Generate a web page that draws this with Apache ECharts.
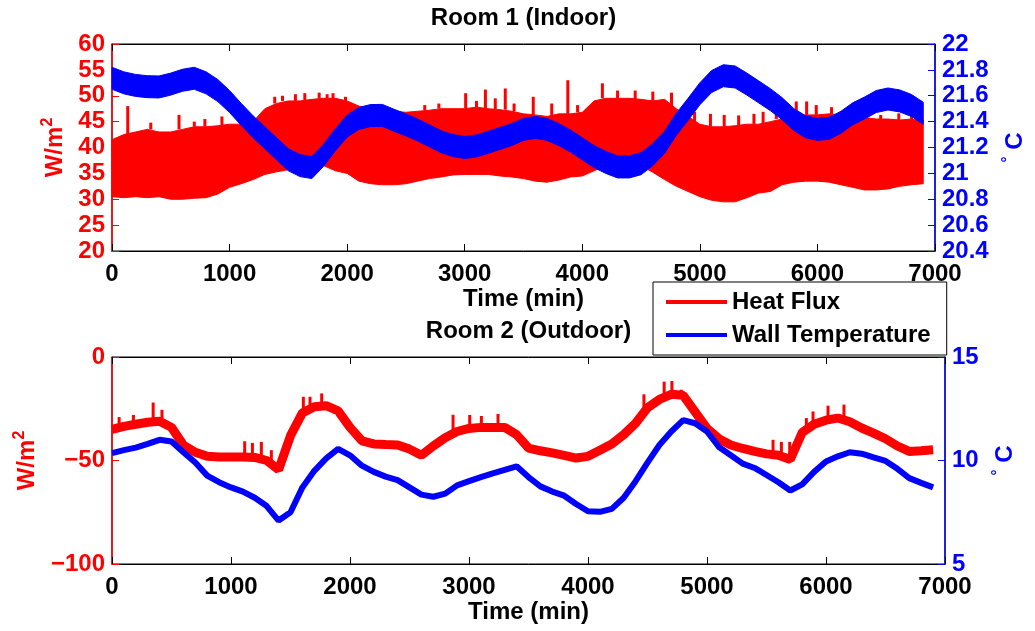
<!DOCTYPE html>
<html><head><meta charset="utf-8">
<script src="https://cdn.jsdelivr.net/npm/echarts@6/dist/echarts.min.js"></script>
<style>html,body{margin:0;padding:0;background:#fff}#c{width:1035px;height:631px}</style>
</head><body><div id="c"></div>
<script>
// ---------- data ----------
const STEP = 100; // minutes between samples
const X_TICKS = [0, 1000, 2000, 3000, 4000, 5000, 6000, 7000];

// Room 1 (Indoor) heat flux: upper / lower edge of the oscillating band (W/m^2)
const room1FluxHigh = [41.5,42.5,43,43.5,43,43,43.5,44,44,44.2,
  44.5,44.5,45,47.5,48.5,49,49,49.3,49.5,49.5,
  49,48,47.5,47.3,47,46.8,47,47.2,47.5,47.5,
  47.5,47.8,47.5,47.3,47,46.5,46.3,46,46.5,46.5,
  46.8,49,49.5,49.5,49.5,49.3,49,49.3,47.5,46,
  44.5,44,44,44.2,44.5,44.5,45,45.5,46,46.3,
  46.3,46.5,46.3,46,45.8,45.5,45.5,45.3,45.5,45.3];
const room1FluxLow = [30.5,30.3,30.5,30.3,30.5,30,30,30.2,30.3,31,
  32.3,33,33.8,34.8,35.3,35.7,36.3,36.8,36.5,35.5,
  35,33.5,33,32.8,32.8,33,33.5,34,34.3,34.7,
  34.8,34.8,34.8,34.5,34.3,34,33.5,33.3,33.7,34.3,
  34.5,35.5,36.5,37,37,36.5,35.2,33.8,32.5,31.5,
  30.5,29.8,29.5,29.5,30.3,31.2,31.5,32.8,33.3,33.5,
  33.5,33.3,32.8,32.3,31.8,31.8,32,32.5,32.8,33];
// isolated upward spikes [time, W/m^2]
const room1FluxSpikes = [[134,48.0],[330,44.8],[570,46.3],[700,45],[790,45.5],[935,46.0],
  [1384,49.8],[1450,50],[1560,50.3],[1640,50.5],[1762,50.6],[1830,50.3],[1880,50.5],[1986,49.8],
  [2660,48.2],[2780,48.5],[3008,50.5],[3100,49],[3176,51.2],[3260,49.5],[3345,51.4],[3420,48.5],
  [3583,49.8],[3740,48.5],[3877,53.0],[3960,48.2],[4171,52.4],[4300,51],[4450,51],[4600,50.8],
  [4759,50.6],[4955,46.9],[5090,46.5],[5207,46.3],[5330,46.2],[5460,46.5],[5538,46.9],[5650,50],
  [5820,48.9],[5908,48.9],[5990,48.2],[6120,47.8],[6400,46.5],[6538,46.3],[6692,46.6],[6800,46.2]];
// Room 1 wall temperature (band centre, deg C)
const room1Temp = [21.735,21.70,21.68,21.67,21.668,21.69,21.72,21.735,21.70,21.64,
  21.555,21.455,21.36,21.275,21.19,21.105,21.06,21.045,21.14,21.26,
  21.365,21.425,21.447,21.448,21.41,21.375,21.335,21.29,21.245,21.215,
  21.20,21.212,21.24,21.27,21.30,21.34,21.355,21.34,21.30,21.25,
  21.19,21.13,21.085,21.05,21.05,21.075,21.145,21.24,21.38,21.495,
  21.615,21.71,21.755,21.745,21.69,21.63,21.57,21.50,21.415,21.36,
  21.34,21.348,21.395,21.46,21.505,21.555,21.575,21.56,21.525,21.465];

// Room 2 (Outdoor)
const room2Flux = [-35,-33.5,-32.5,-31.5,-31,-34,-42.5,-46,-48,-48.3,
  -48.3,-48.3,-48.5,-50,-54.5,-38,-27,-24,-23.5,-26,
  -34,-40.5,-42,-42.3,-42.5,-44.5,-47.5,-43,-39,-36,
  -34.5,-34,-34,-34,-37.5,-44,-45.3,-46.3,-47.5,-48.8,
  -48,-45,-42,-37.5,-32,-24.5,-20.5,-18,-18.5,-26.5,
  -34.5,-39.5,-42.5,-44.2,-45.6,-46.8,-47.5,-49.5,-36.5,-32.5,
  -30.5,-29.5,-31.3,-34.3,-36.8,-39.5,-43,-45.6,-45.3,-44.8];
const room2FluxSpikes = [[60,-29],[180,-28],[346,-22],[420,-25.5],[1115,-40.7],[1180,-41.5],
  [1255,-41],[1339,-45],[1608,-19.2],[1664,-19.2],[1762,-17.6],[2866,-27.9],[3006,-28],
  [3104,-28.5],[3244,-27.5],[4470,-18],[4640,-11.9],[4705,-11.6],[4784,-15.8],[5555,-40],
  [5625,-41],[5695,-41],[5835,-29.5],[5891,-26.3],[6017,-23.5],[6151,-23]];
const room2Temp = [10.36,10.5,10.62,10.8,11.0,10.92,10.4,9.9,9.27,8.95,
  8.7,8.5,8.2,7.8,7.1,7.5,8.7,9.5,10.1,10.56,
  10.25,9.75,9.45,9.22,9.05,8.7,8.35,8.25,8.4,8.8,
  9.0,9.2,9.38,9.55,9.72,9.2,8.75,8.5,8.3,7.9,
  7.55,7.52,7.66,8.2,9.0,9.9,10.75,11.4,11.95,11.8,
  11.4,10.65,10.25,9.85,9.64,9.3,8.95,8.55,8.85,9.45,
  9.95,10.2,10.4,10.33,10.15,9.98,9.6,9.15,8.92,8.7];

const TIME = room1Temp.map((_, i) => i * STEP);

// ---------- styles ----------
const RED = '#ff0000', BLUE = '#0000ff', BLACK = '#000000';
const FONT = "'Liberation Sans', Arial, sans-serif";
const TEMP_BAND_HALF_PX = 11;

const chart = echarts.init(document.getElementById('c'), null, {renderer: 'canvas'});

function xAxes(grid, title) {
  const common = {gridIndex: grid, type: 'value', min: X_TICKS[0], max: X_TICKS[X_TICKS.length - 1],
    interval: X_TICKS[1] - X_TICKS[0], splitLine: {show: false}};
  return [
    Object.assign({}, common, {
      position: 'bottom',
      axisLine: {show: true, onZero: false, lineStyle: {color: BLACK, width: 1}},
      axisTick: {show: true, inside: true, length: 7, lineStyle: {color: BLACK}},
      axisLabel: {color: BLACK, fontSize: 24, fontWeight: 'bold', fontFamily: FONT, margin: 11,
        formatter: v => String(v)},
      name: 'Time (min)', nameLocation: 'middle', nameGap: 36,
      nameTextStyle: {color: BLACK, fontSize: 24, fontWeight: 'bold', fontFamily: FONT}
    }),
    Object.assign({}, common, {
      position: 'top',
      axisLine: {show: true, onZero: false, lineStyle: {color: BLACK, width: 1}},
      axisTick: {show: true, inside: true, length: 7, lineStyle: {color: BLACK}},
      axisLabel: {show: false},
      name: title, nameLocation: 'middle', nameGap: 14,
      nameTextStyle: {color: BLACK, fontSize: 24, fontWeight: 'bold', fontFamily: FONT}
    })
  ];
}

function yAxis(grid, pos, min, max, interval, color, name, gap, fmt) {
  return {
    gridIndex: grid, type: 'value', position: pos, min: min, max: max, interval: interval,
    splitLine: {show: false},
    axisLine: {show: true, onZero: false, lineStyle: {color: color, width: 1.5}},
    axisTick: {show: true, inside: true, length: 7, lineStyle: {color: color}},
    axisLabel: {color: color, fontSize: 24, fontWeight: 'bold', fontFamily: FONT, margin: 7, formatter: fmt},
    name: name, nameLocation: 'middle', nameGap: gap, nameRotate: 90,
    nameTextStyle: {color: color, fontSize: 24, fontWeight: 'bold', fontFamily: FONT,
      rich: {
        n: {color: color, fontSize: 24, fontWeight: 'bold', fontFamily: FONT, lineHeight: 30},
        s: {color: color, fontSize: 16, fontWeight: 'bold', fontFamily: FONT, verticalAlign: 'top', lineHeight: 16},
        d: {color: color, fontSize: 15, fontWeight: 'bold', fontFamily: FONT, verticalAlign: 'top', lineHeight: 14}
      }}
  };
}

const fmtPlain = v => String(+(+v).toFixed(1));
const fmtMinus = v => (v < 0 ? '\u2212' + Math.abs(v) : String(v));

function bandSeries(name, xi, yi, upper, lower, color, z) {
  return {
    type: 'custom', name: name, xAxisIndex: xi, yAxisIndex: yi, silent: true, z: z,
    itemStyle: {color: color},
    data: [[TIME[0], lower[0]]],
    renderItem: function (params, api) {
      const pts = [];
      for (let i = 0; i < TIME.length; i++) pts.push(api.coord([TIME[i], upper[i]]));
      for (let i = TIME.length - 1; i >= 0; i--) pts.push(api.coord([TIME[i], lower[i]]));
      return {type: 'polygon', shape: {points: pts}, style: {fill: color, stroke: color, lineWidth: 1}};
    }
  };
}

function thickBandSeries(name, xi, yi, centre, color, z) {
  return {
    type: 'custom', name: name, xAxisIndex: xi, yAxisIndex: yi, silent: true, z: z,
    itemStyle: {color: color},
    data: [[TIME[0], centre[0]]],
    renderItem: function (params, api) {
      const top = [], bot = [];
      for (let i = 0; i < TIME.length; i++) {
        const p = api.coord([TIME[i], centre[i]]);
        top.push([p[0], p[1] - TEMP_BAND_HALF_PX]);
        bot.unshift([p[0], p[1] + TEMP_BAND_HALF_PX]);
      }
      return {type: 'polygon', shape: {points: top.concat(bot)}, style: {fill: color, stroke: color, lineWidth: 1}};
    }
  };
}

function spikeSeries(name, xi, yi, spikes, baseArr, color, z) {
  return {
    type: 'custom', name: name, xAxisIndex: xi, yAxisIndex: yi, silent: true, z: z,
    itemStyle: {color: color},
    data: spikes,
    renderItem: function (params, api) {
      const t = api.value(0), v = api.value(1);
      const base = baseArr[Math.min(baseArr.length - 1, Math.round(t / STEP))];
      const p1 = api.coord([t, v]), p2 = api.coord([t, base]);
      return {type: 'rect', shape: {x: p1[0] - 1.5, y: Math.min(p1[1], p2[1]), width: 3, height: Math.abs(p2[1] - p1[1])},
        style: {fill: color}};
    }
  };
}

const option = {
  animation: false,
  backgroundColor: '#fff',
  grid: [
    {left: 112, top: 44, width: 833, height: 207, show: true, borderColor: BLACK, borderWidth: 1, backgroundColor: 'transparent'},
    {left: 112, top: 357, width: 833, height: 207, show: true, borderColor: BLACK, borderWidth: 1, backgroundColor: 'transparent'}
  ],
  xAxis: xAxes(0, 'Room 1 (Indoor)').concat(xAxes(1, 'Room 2 (Outdoor)')),
  yAxis: [
    yAxis(0, 'left', 20, 60, 5, RED, '{n|W/m}{s|2}', 42, fmtPlain),
    yAxis(0, 'right', 20.4, 22, 0.2, BLUE, '{d|\u00b0}{n| C}', 65, fmtPlain),
    yAxis(1, 'left', -100, 0, 50, RED, '{n|W/m}{s|2}', 70, fmtMinus),
    yAxis(1, 'right', 5, 15, 5, BLUE, '{d|\u00b0}{n| C}', 45, fmtPlain)
  ],
  legend: {
    orient: 'vertical', left: 653, top: 282, z: 20,
    backgroundColor: '#fff', borderColor: BLACK, borderWidth: 1,
    padding: [8, 16, 8, 13], itemGap: 9, itemWidth: 61, itemHeight: 4,
    icon: 'rect', selectedMode: false,
    textStyle: {color: BLACK, fontSize: 24, fontWeight: 'bold', fontFamily: FONT, lineHeight: 24},
    data: [{name: 'Heat Flux', itemStyle: {color: RED}}, {name: 'Wall Temperature', itemStyle: {color: BLUE}}]
  },
  series: [
    bandSeries('Heat Flux', 0, 0, room1FluxHigh, room1FluxLow, RED, 2),
    spikeSeries('Heat Flux', 0, 0, room1FluxSpikes, room1FluxHigh, RED, 2),
    thickBandSeries('Wall Temperature', 0, 1, room1Temp, BLUE, 3),
    {
      type: 'line', name: 'Heat Flux', xAxisIndex: 2, yAxisIndex: 2, silent: true, z: 2,
      showSymbol: false, symbol: 'none', color: RED,
      lineStyle: {color: RED, width: 9},
      data: TIME.map((t, i) => [t, room2Flux[i]])
    },
    spikeSeries('Heat Flux', 2, 2, room2FluxSpikes, room2Flux, RED, 2),
    {
      type: 'line', name: 'Wall Temperature', xAxisIndex: 2, yAxisIndex: 3, silent: true, z: 3,
      showSymbol: false, symbol: 'none', color: BLUE,
      lineStyle: {color: BLUE, width: 6},
      data: TIME.map((t, i) => [t, room2Temp[i]])
    }
  ]
};
chart.setOption(option);
</script>
</body></html>
